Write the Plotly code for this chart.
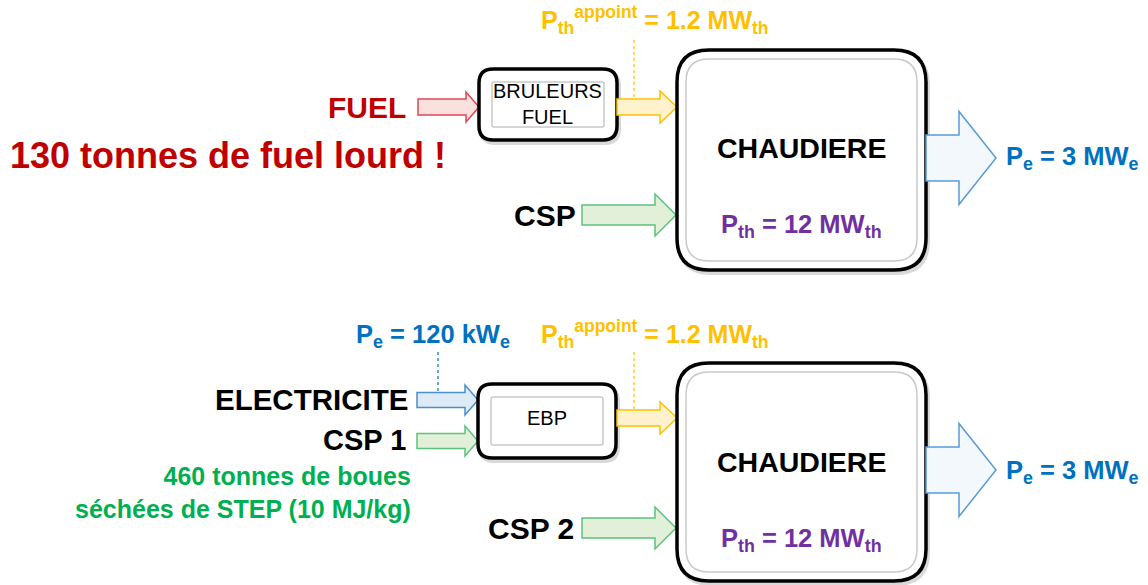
import plotly.graph_objects as go

# ---- values (text content of the diagram) ----
source_labels_top = ["FUEL", "CSP"]
source_labels_bottom = ["ELECTRICITE", "CSP 1", "CSP 2"]
unit_labels = ["BRULEURS<br>FUEL", "EBP"]
boiler_label = "CHAUDIERE"
p_th_boiler_mw = [12, 12]
p_appoint_mw = [1.2, 1.2]
p_e_out_mw = [3, 3]
p_e_ebp_kw = [120]
fuel_tonnes = [130]
sludge_tonnes = [460]
sludge_pci_mj_kg = [10]

# ---- styles ----
FONT = "Liberation Sans, Arial, sans-serif"
RED = "#C00000"
ORANGE = "#FFC000"
GREEN_T = "#00B050"
BLUE_T = "#0070C0"
PURPLE = "#7030A0"

shapes = []
annotations = []


def rrect(x0, y0, x1, y1, r):
    return (f"M {x0+r},{y0} L {x1-r},{y0} Q {x1},{y0} {x1},{y0+r} "
            f"L {x1},{y1-r} Q {x1},{y1} {x1-r},{y1} L {x0+r},{y1} "
            f"Q {x0},{y1} {x0},{y1-r} L {x0},{y0+r} Q {x0},{y0} {x0+r},{y0} Z")


def box(x0, y0, x1, y1, r, inset):
    shapes.append(dict(type="path", path=rrect(x0 + 2, y0 + 3, x1 + 2, y1 + 3, r),
                       line=dict(color="rgba(0,0,0,0.15)", width=4), fillcolor="rgba(0,0,0,0)"))
    shapes.append(dict(type="path", path=rrect(x0, y0, x1, y1, r),
                       line=dict(color="black", width=3.5), fillcolor="white"))
    shapes.append(dict(type="path", path=rrect(x0 + inset, y0 + inset, x1 - inset, y1 - inset, max(r - inset, 2)),
                       line=dict(color="#C9C9C9", width=1.5), fillcolor="rgba(0,0,0,0)"))


def arrow(x0, x1, yc, bh, hh, hl, fill, stroke, w=1.5):
    xh = x1 - hl
    p = (f"M {x0},{yc-bh/2} L {xh},{yc-bh/2} L {xh},{yc-hh/2} L {x1},{yc} "
         f"L {xh},{yc+hh/2} L {xh},{yc+bh/2} L {x0},{yc+bh/2} Z")
    shapes.append(dict(type="path", path=p, fillcolor=fill, line=dict(color=stroke, width=w)))


def dotted(x, y0, y1, color):
    shapes.append(dict(type="line", x0=x, x1=x, y0=y0, y1=y1,
                       line=dict(color=color, width=1.2, dash="dot")))


def text(x, y, s, size, color, bold=True, xanchor="center", align="center"):
    if bold:
        s = f"<b>{s}</b>"
    annotations.append(dict(x=x, y=y, xref="x", yref="y", text=s, showarrow=False,
                            xanchor=xanchor, yanchor="middle", align=align,
                            font=dict(family=FONT, size=size, color=color)))


def appoint_text(v):
    return f"P<sub>th</sub><sup>appoint</sup> = {v} MW<sub>th</sub>"


# ================= TOP DIAGRAM =================
arrow(418, 479, 107, 16, 30, 13, "#FBE0E0", "#E0474C")
box(479, 69, 617, 140, 14, 13)
text(547, 104, unit_labels[0], 20, "black", bold=False)
dotted(634, 40, 100, ORANGE)
arrow(617, 677, 107, 16, 32, 17, "#FFF2CC", ORANGE)
arrow(582, 676, 215, 20, 42, 21, "#E2F0D9", "#5CC27E")
box(677, 50, 926, 270, 32, 9)
arrow(926, 996, 158, 46, 93, 37, "#F3F8FC", "#5B9BD5")

text(408, 107, source_labels_top[0], 30, RED, xanchor="right")
text(8, 155, f"{fuel_tonnes[0]} tonnes de fuel lourd !", 36, RED, xanchor="left")
text(578, 215, source_labels_top[1], 30, "black", xanchor="right")
text(655, 20, appoint_text(p_appoint_mw[0]), 25, ORANGE)
text(801, 148, boiler_label, 28.5, "black")
text(801, 226, f"P<sub>th</sub> = {p_th_boiler_mw[0]} MW<sub>th</sub>", 25.5, PURPLE)
text(1004, 158, f"P<sub>e</sub> = {p_e_out_mw[0]} MW<sub>e</sub>", 25.5, BLUE_T, xanchor="left")

# ================= BOTTOM DIAGRAM =================
dotted(438, 352, 392, BLUE_T)
arrow(417, 478, 400, 15, 30, 13, "#DEEBF7", "#4A90D0")
arrow(417, 478, 441, 15, 30, 13, "#E2F0D9", "#5CC27E")
box(478, 384, 616, 458, 14, 13)
text(547, 418, unit_labels[1], 20, "black", bold=False)
dotted(634, 352, 410, ORANGE)
arrow(617, 677, 418, 16, 32, 17, "#FFF2CC", ORANGE)
arrow(582, 676, 528, 20, 42, 21, "#E2F0D9", "#5CC27E")
box(677, 363, 926, 581, 32, 9)
arrow(926, 996, 470, 46, 93, 37, "#F3F8FC", "#5B9BD5")

text(433, 336, f"P<sub>e</sub> = {p_e_ebp_kw[0]} kW<sub>e</sub>", 25.5, BLUE_T)
text(655, 334, appoint_text(p_appoint_mw[1]), 25, ORANGE)
text(410, 399, source_labels_bottom[0], 29.5, "black", xanchor="right")
text(408, 440, source_labels_bottom[1], 29, "black", xanchor="right")
text(413, 492, f"{sludge_tonnes[0]} tonnes de boues<br>séchées de STEP ({sludge_pci_mj_kg[0]} MJ/kg)",
     25, GREEN_T, xanchor="right", align="right")
text(576, 528, source_labels_bottom[2], 30, "black", xanchor="right")
text(801, 462, boiler_label, 28.5, "black")
text(801, 540, f"P<sub>th</sub> = {p_th_boiler_mw[1]} MW<sub>th</sub>", 25.5, PURPLE)
text(1004, 472, f"P<sub>e</sub> = {p_e_out_mw[1]} MW<sub>e</sub>", 25.5, BLUE_T, xanchor="left")

fig = go.Figure()
fig.add_trace(go.Scatter(x=[0, 1148], y=[0, 585], mode="markers",
                         marker=dict(opacity=0), hoverinfo="skip", showlegend=False))
fig.update_layout(
    width=1148, height=585,
    margin=dict(l=0, r=0, t=0, b=0),
    paper_bgcolor="white", plot_bgcolor="white",
    xaxis=dict(range=[0, 1148], visible=False, fixedrange=True),
    yaxis=dict(range=[585, 0], visible=False, fixedrange=True),
    shapes=shapes, annotations=annotations,
    showlegend=False,
)
fig.write_html("out.html", config={"displayModeBar": False},
               post_script="document.body.style.margin='0';document.body.style.overflow='hidden';")
